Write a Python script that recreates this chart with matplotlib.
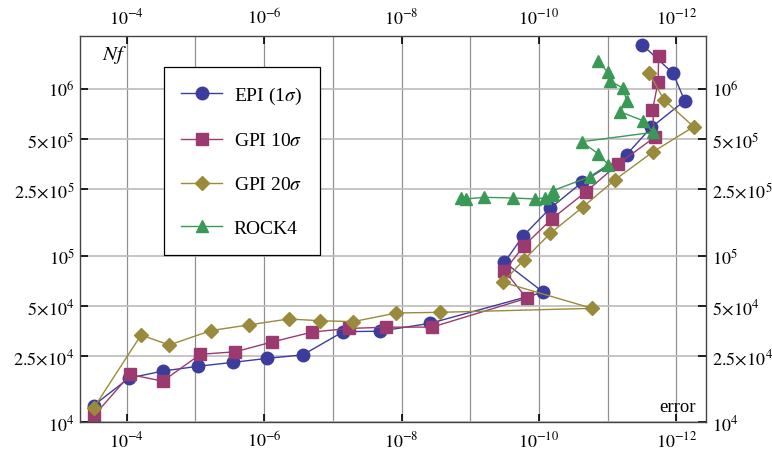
import matplotlib
matplotlib.use('Agg')
import matplotlib.pyplot as plt
from matplotlib.ticker import FixedLocator, NullFormatter, NullLocator

# 字体设置
plt.rcParams['font.family'] = ['Liberation Serif', 'DejaVu Serif']
plt.rcParams['mathtext.fontset'] = 'stix'

# data: error vs Nf
epi_err = [3.05e-4, 9.35e-5, 3.0e-5, 9.1e-6, 2.83e-6, 8.97e-7, 2.73e-7, 7.07e-8, 2.08e-8, 3.82e-9,
           8.65e-11, 3.18e-10, 1.69e-10, 6.92e-11, 2.35e-11, 5.32e-12, 2.31e-12, 7.57e-13, 1.12e-12, 3.12e-12]
epi_nf = [1.26e4, 1.84e4, 2.03e4, 2.17e4, 2.29e4, 2.42e4, 2.54e4, 3.50e4, 3.52e4, 3.93e4,
          6.03e4, 9.13e4, 1.318e5, 1.92e5, 2.76e5, 4.04e5, 5.90e5, 8.51e5, 1.244e6, 1.84e6]

gpi10_err = [3.05e-4, 8.95e-5, 3.0e-5, 8.48e-6, 2.63e-6, 7.77e-7, 2.0e-7, 5.82e-8, 1.66e-8, 3.57e-9,
             1.51e-10, 3.18e-10, 1.65e-10, 6.53e-11, 2.07e-11, 7.05e-12, 2.07e-12, 2.23e-12, 1.85e-12, 1.81e-12]
gpi10_nf = [1.086e4, 1.936e4, 1.765e4, 2.56e4, 2.65e4, 3.03e4, 3.48e4, 3.66e4, 3.72e4, 3.73e4,
            5.55e4, 8.13e4, 1.148e5, 1.66e5, 2.42e5, 3.55e5, 5.14e5, 7.49e5, 1.099e6, 1.585e6]

gpi20_err = [3.05e-4, 6.2e-5, 2.41e-5, 5.97e-6, 1.69e-6, 4.40e-7, 1.55e-7, 5.06e-8, 1.19e-8, 2.80e-9,
             1.68e-11, 3.36e-10, 1.65e-10, 6.84e-11, 2.27e-11, 7.87e-12, 2.21e-12, 5.61e-13, 1.51e-12, 2.50e-12]
gpi20_nf = [1.213e4, 3.34e4, 2.91e4, 3.55e4, 3.84e4, 4.17e4, 4.07e4, 4.02e4, 4.53e4, 4.57e4,
            4.83e4, 6.92e4, 9.46e4, 1.362e5, 1.968e5, 2.85e5, 4.19e5, 5.94e5, 8.6e5, 1.244e6]

rock4_err = [1.355e-9, 1.145e-9, 6.28e-10, 2.42e-10, 1.16e-10, 8.3e-11, 6.36e-11, 6.19e-11, 1.82e-11, 9.84e-12,
             1.37e-11, 2.39e-11, 2.19e-12, 3.05e-12, 6.65e-12, 5.32e-12, 5.96e-12, 9.29e-12, 1.0e-11, 1.37e-11]
rock4_nf = [2.22e5, 2.19e5, 2.24e5, 2.22e5, 2.19e5, 2.22e5, 2.30e5, 2.46e5, 2.98e5, 3.52e5,
            4.08e5, 4.83e5, 5.50e5, 6.46e5, 7.31e5, 8.51e5, 1.011e6, 1.122e6, 1.26e6, 1.48e6]

x_major = [1e-4, 1e-6, 1e-8, 1e-10, 1e-12]
x_major_labels = [r'$10^{-4}$', r'$10^{-6}$', r'$10^{-8}$', r'$10^{-10}$', r'$10^{-12}$']
x_minor = [1e-3, 1e-5, 1e-7, 1e-9, 1e-11]
y_ticks = [1e4, 2.5e4, 5e4, 1e5, 2.5e5, 5e5, 1e6]
y_labels = [r'$10^{4}$', r'$2.5\!\times\!10^{4}$', r'$5\!\times\!10^{4}$', r'$10^{5}$',
            r'$2.5\!\times\!10^{5}$', r'$5\!\times\!10^{5}$', r'$10^{6}$']

fig = plt.figure(figsize=(7.72, 4.52), dpi=100)
ax = fig.add_axes([0.1036, 0.0635, 0.811, 0.8545])

ax.plot(epi_err, epi_nf, '-o', color='#3c3c9c', lw=1.0, ms=9, label=r'EPI (1$\sigma$)')
ax.plot(gpi10_err, gpi10_nf, '-s', color='#9b3a6e', lw=1.0, ms=8, label=r'GPI 10$\sigma$')
ax.plot(gpi20_err, gpi20_nf, '-D', color='#9a8a3c', lw=1.0, ms=7.5, label=r'GPI 20$\sigma$')
ax.plot(rock4_err, rock4_nf, '-^', color='#3a9a55', lw=1.0, ms=9, label='ROCK4')

ax.set_xscale('log')
ax.set_yscale('log')
ax.set_xlim(4.8e-4, 3.7e-13)
ax.set_ylim(1e4, 2.08e6)

ax.xaxis.set_major_locator(FixedLocator(x_major))
ax.set_xticklabels(x_major_labels)
ax.xaxis.set_minor_locator(FixedLocator(x_minor))
ax.xaxis.set_minor_formatter(NullFormatter())
ax.yaxis.set_major_locator(FixedLocator(y_ticks))
ax.set_yticklabels(y_labels)
ax.yaxis.set_minor_locator(NullLocator())

ax.tick_params(which='major', direction='in', length=6, width=1.2, labelsize=13,
               top=True, right=True, labeltop=True, labelright=True)
ax.tick_params(axis='x', which='major', pad=6)
ax.tick_params(axis='y', which='major', pad=4)
ax.tick_params(which='minor', length=0, top=True)

#网格
ax.grid(True, axis='x', which='both', color='#909090', lw=0.9)
ax.grid(True, axis='y', which='major', color='#c0c0c0', lw=1.3)
ax.set_axisbelow(True)
for s in ax.spines.values():
    s.set_color('#444444')
    s.set_linewidth(1.0)

ax.text(0.056, 0.953, r'$Nf$', transform=ax.transAxes, ha='center', va='center', fontsize=15)
ax.text(0.955, 0.04, 'error', transform=ax.transAxes, ha='center', va='center', fontsize=13.5)

leg = ax.legend(loc='upper left', bbox_to_anchor=(0.134, 0.92), fontsize=14, numpoints=1,
                labelspacing=1.35, handlelength=2.1, handletextpad=0.6, borderpad=0.9,
                borderaxespad=0, fancybox=False, framealpha=1, edgecolor='black')
leg.get_frame().set_linewidth(0.9)

plt.savefig('out.png', dpi=100)
